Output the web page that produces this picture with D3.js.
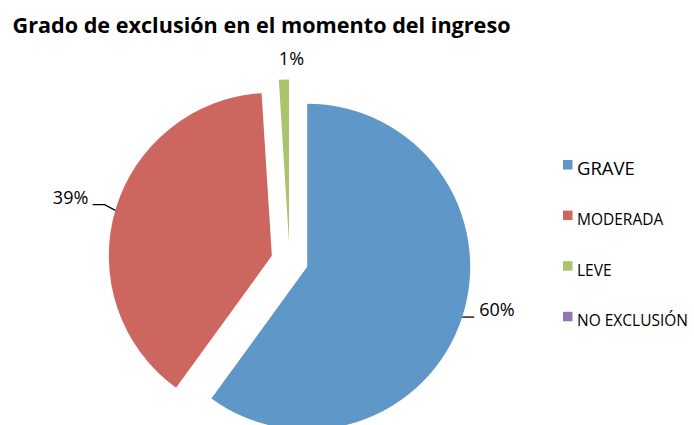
<!DOCTYPE html>
<html>
<head>
<meta charset="utf-8">
<script src="https://cdn.jsdelivr.net/npm/d3@7"></script>
<style>
  html, body { margin: 0; padding: 0; background: #fff; }
  svg { display: block; }
  text { font-family: "Open Sans", "Liberation Sans", sans-serif; fill: #000; }
</style>
</head>
<body>
<script>
const title = "Grado de exclusión en el momento del ingreso";
const categories = ["GRAVE", "MODERADA", "LEVE", "NO EXCLUSIÓN"];
const values = [60, 39, 1, 0];
const colors = ["#6097c9", "#cd665f", "#a9c46b", "#9278b3"];

const W = 694, H = 425;
const svg = d3.select("body").append("svg").attr("width", W).attr("height", H);

// Title (fit to width)
const t = svg.append("text").attr("x", 12.5).attr("y", 32.5)
  .style("font-weight", "bold").style("font-size", "22px").text(title);
const tw = t.node().getComputedTextLength();
t.style("font-size", (22 * 498 / tw).toFixed(2) + "px");

const cx = 289.6, cy = 261, r = 163, explode = 18.5;
const total = d3.sum(values);

const pie = d3.pie().sort(null).value(d => d)(values);
const arc = d3.arc().innerRadius(0).outerRadius(r);

const g = svg.append("g").attr("transform", `translate(${cx},${cy})`);

pie.forEach((p, i) => {
  if (p.value <= 0) return;
  const mid = (p.startAngle + p.endAngle) / 2;
  const ox = Math.sin(mid) * explode, oy = -Math.cos(mid) * explode;
  const sg = g.append("g").attr("transform", `translate(${ox},${oy})`);
  sg.append("path").attr("d", arc(p)).attr("fill", colors[i]);

  const pct = Math.round(p.value / total * 100) + "%";
  const ax = Math.sin(mid) * r, ay = -Math.cos(mid) * r;
  if (i === 0) {
    sg.append("path").attr("d", `M${ax},${ay}H${ax + 12}`)
      .attr("stroke", "#000").attr("stroke-width", 1.3).attr("fill", "none");
    sg.append("text").attr("x", ax + 17).attr("y", ay - 1)
      .style("font-size", "18px").text(pct);
  } else if (i === 1) {
    sg.append("path").attr("d", `M${ax},${ay}L${ax - 10.7},${ay - 5.7}H${ax - 22.7}`)
      .attr("stroke", "#000").attr("stroke-width", 1.3).attr("fill", "none");
    sg.append("text").attr("x", ax - 27).attr("y", ay - 6.5)
      .attr("text-anchor", "end").style("font-size", "18px").text(pct);
  } else {
    const lx = Math.sin(mid) * (r + 15), ly = -Math.cos(mid) * (r + 15);
    sg.append("text").attr("x", lx + 8).attr("y", ly)
      .attr("text-anchor", "middle").style("font-size", "18px").text(pct);
  }
});

// Legend
const legend = svg.append("g");
categories.forEach((c, i) => {
  const y0 = 160 + i * 50.6;
  legend.append("rect").attr("x", 563).attr("y", y0).attr("width", 9.5).attr("height", 9.5)
    .attr("fill", colors[i]);
  legend.append("text").attr("x", 577).attr("y", y0 + (i === 0 ? 15 : 14.3))
    .style("font-size", i === 0 ? "18.5px" : "15.5px").text(c);
});
</script>
</body>
</html>
